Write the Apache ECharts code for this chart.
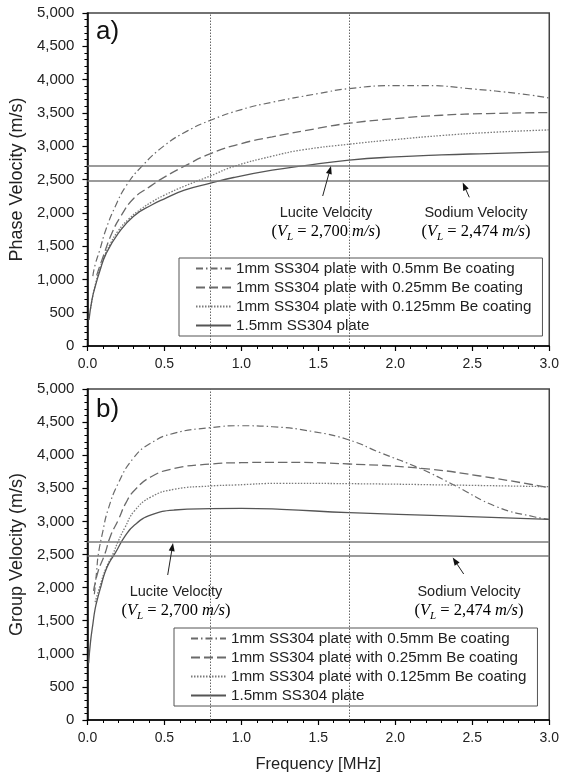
<!DOCTYPE html>
<html><head><meta charset="utf-8">
<script src="https://cdn.jsdelivr.net/npm/echarts/dist/echarts.min.js"></script>
<style>html,body{margin:0;padding:0;background:#fff}#c{width:562px;height:775px}</style>
</head><body><div id="c"></div>
<script>
// ---------- data ----------
const seriesNames = [
  '1mm SS304 plate with 0.5mm Be coating',
  '1mm SS304 plate with 0.25mm Be coating',
  '1mm SS304 plate with 0.125mm Be coating',
  '1.5mm SS304 plate'
];
// a) Phase velocity (m/s) vs frequency (MHz)
const freqP05   = [0.035,0.05,0.08,0.12,0.18,0.25,0.35,0.5,0.65,0.8,1.0,1.2,1.5,1.7,2.0,2.2,2.5,2.8,3.0];
const phaseP05  = [1050,1220,1440,1750,2090,2400,2690,3010,3230,3390,3550,3660,3790,3865,3910,3910,3860,3790,3725];
const freqP025  = [0.06,0.1,0.16,0.22,0.3,0.4,0.5,0.63,0.8,1.0,1.2,1.5,1.7,2.0,2.3,2.6,3.0];
const phaseP025 = [1060,1330,1700,1960,2215,2385,2535,2700,2890,3040,3140,3270,3345,3415,3465,3490,3505];
const freqP0125 = [0.02,0.05,0.1,0.15,0.2,0.27,0.35,0.42,0.5,0.63,0.8,0.95,1.2,1.4,1.7,2.0,2.3,2.6,3.0];
const phaseP0125= [560,910,1290,1540,1730,1910,2060,2165,2265,2400,2555,2695,2850,2945,3030,3100,3160,3205,3245];
const freqP15   = [0.01,0.03,0.05,0.08,0.12,0.2,0.3,0.42,0.5,0.63,0.8,0.95,1.2,1.4,1.7,2.0,2.3,2.6,3.0];
const phaseP15  = [390,700,890,1120,1380,1690,1950,2120,2210,2340,2445,2530,2640,2705,2790,2840,2870,2890,2915];
// b) Group velocity (m/s) vs frequency (MHz)
const freqG05   = [0.045,0.06,0.07,0.1,0.133,0.2,0.3,0.41,0.56,0.8,1.0,1.2,1.47,1.7,1.9,2.16,2.38,2.66,2.9,3.0];
const groupG05  = [1900,2250,2490,2850,3170,3575,3960,4180,4330,4416,4445,4430,4355,4230,4040,3800,3550,3220,3070,3030];
const freqG025  = [0.04,0.07,0.112,0.15,0.2,0.25,0.306,0.414,0.565,0.8,1.0,1.26,1.7,2.165,2.55,3.0];
const groupG025 = [1950,2250,2500,2780,3020,3280,3470,3675,3800,3867,3887,3893,3867,3802,3686,3509];
const freqG0125 = [0.05,0.08,0.12,0.166,0.2,0.242,0.306,0.414,0.565,0.8,0.955,1.26,1.7,2.34,3.0];
const groupG0125= [1780,2014,2290,2510,2700,2900,3160,3370,3485,3535,3550,3575,3570,3550,3524];
const freqG15   = [0.008,0.02,0.036,0.05,0.069,0.09,0.112,0.14,0.18,0.242,0.306,0.414,0.565,0.8,1.0,1.26,1.7,2.34,3.0];
const groupG15  = [856,1180,1460,1680,1863,2040,2216,2370,2520,2769,2946,3097,3172,3192,3197,3182,3132,3082,3032];
// reference lines
const luciteVelocity = 2700;
const sodiumVelocity = 2474;
const markerFreqs = [0.8, 1.7];
const xTicks = {min: 0, max: 3, interval: 0.5};
const yTicks = {min: 0, max: 5000, interval: 500};

// ---------- styles ----------
const SANS = '"Liberation Sans", Arial, sans-serif';
const SERIF = '"Liberation Serif", "Times New Roman", serif';
const lineStyles = [
  {color:'#6a6a6a', width:1.2, type:[7,3,1.5,3]},
  {color:'#6a6a6a', width:1.3, type:[9,4]},
  {color:'#7a7a7a', width:1.3, type:[1.5,1.5]},
  {color:'#555', width:1.3, type:'solid'}
];
const dataSets = [
  [[freqP05,phaseP05],[freqP025,phaseP025],[freqP0125,phaseP0125],[freqP15,phaseP15]],
  [[freqG05,groupG05],[freqG025,groupG025],[freqG0125,groupG0125],[freqG15,groupG15]]
];

const series = [];
dataSets.forEach((sets, gi) => {
  sets.forEach((pair, si) => {
    const s = {
      type:'line', name: seriesNames[si], xAxisIndex: gi, yAxisIndex: gi,
      data: pair[0].map((x,i)=>[x, pair[1][i]]),
      symbol:'none', showSymbol:false, smooth:0.5,
      lineStyle: lineStyles[si], itemStyle:{color: lineStyles[si].color},
      silent:true, z:3
    };
    if (si === 3) {
      s.markLine = {
        silent:true, symbol:'none', label:{show:false}, animation:false,
        data:[
          {yAxis: luciteVelocity, lineStyle:{color:'#7a7a7a', width:1.5, type:'solid'}},
          {yAxis: sodiumVelocity, lineStyle:{color:'#7a7a7a', width:1.5, type:'solid'}},
          ...markerFreqs.map(f => ({xAxis: f, lineStyle:{color:'#666', width:1, type:[1.5,1.5]}}))
        ]
      };
    }
    series.push(s);
  });
});

function xAxis(gi){
  return {
    type:'value', gridIndex: gi, min:xTicks.min, max:xTicks.max, interval:xTicks.interval,
    axisLine:{show:true, onZero:false, lineStyle:{color:'#000', width:1.5}},
    axisTick:{show:true, length:5, lineStyle:{color:'#000', width:1.2}},
    minorTick:{show:true, splitNumber:5, length:3, lineStyle:{color:'#000', width:1}},
    splitLine:{show:false},
    axisLabel:{formatter:v=>v.toFixed(1), fontFamily:SANS, fontSize:14, color:'#222', margin:11},
    name: gi===1 ? 'Frequency [MHz]' : '', nameLocation:'middle', nameGap:36,
    nameTextStyle:{fontFamily:SANS, fontSize:16.5, color:'#222'}
  };
}
function yAxis(gi, name){
  return {
    type:'value', gridIndex: gi, min:yTicks.min, max:yTicks.max, interval:yTicks.interval,
    axisLine:{show:true, lineStyle:{color:'#000', width:1.5}},
    axisTick:{show:true, length:5, lineStyle:{color:'#000', width:1.2}},
    minorTick:{show:true, splitNumber:5, length:3, lineStyle:{color:'#000', width:1}},
    splitLine:{show:false},
    axisLabel:{formatter:v=>v.toLocaleString('en-US'), fontFamily:SANS, fontSize:15, color:'#222', margin:13},
    name, nameLocation:'middle', nameGap:58,
    nameTextStyle:{fontFamily:SANS, fontSize:18, color:'#222'}
  };
}
function legend(left, top){
  return {
    data: seriesNames, orient:'vertical', left, top,
    itemWidth:35, itemHeight:14, itemGap:4,
    padding:[3,11,3,16], borderColor:'#555', borderWidth:1, backgroundColor:'#fff',
    textStyle:{fontFamily:SANS, fontSize:15.2, color:'#222'},
    itemStyle:{opacity:0, borderWidth:0},
    selectedMode:false
  };
}

const rich = {
  n:{fontFamily:SERIF, fontSize:16.5, color:'#222', lineHeight:22},
  i:{fontFamily:SERIF, fontSize:16.5, fontStyle:'italic', color:'#222', lineHeight:22},
  sub:{fontFamily:SERIF, fontSize:11, fontStyle:'italic', color:'#222', lineHeight:12, verticalAlign:'bottom'}
};
function label(x, y, title, val){
  return [
    {type:'text', x, y, z:10, style:{text:title, x:0, y:0, align:'center', verticalAlign:'middle', font:'14.5px '+SANS, fill:'#222'}},
    {type:'text', x, y:y+19, z:10, style:{text:'{n|(}{i|V}{sub|L}{n| = '+val+' }{i|m/s}{n|)}', x:0, y:0, align:'center', verticalAlign:'middle', rich}}
  ];
}
function arrow(x1,y1,x2,y2){
  const dx=x2-x1, dy=y2-y1, L=Math.hypot(dx,dy), ux=dx/L, uy=dy/L, px=-uy, py=ux;
  const hl=8, hw=3;
  const bx=x2-ux*hl, by=y2-uy*hl;
  return [
    {type:'line', z:10, shape:{x1,y1,x2:bx,y2:by}, style:{stroke:'#222', lineWidth:1}},
    {type:'polygon', z:10, shape:{points:[[x2,y2],[bx+px*hw,by+py*hw],[bx-px*hw,by-py*hw]]}, style:{fill:'#111'}}
  ];
}

const option = {
  animation:false,
  backgroundColor:'#fff',
  grid:[
    {left:86, top:13, width:467, height:333, show:true, borderColor:'#444', borderWidth:1.5, backgroundColor:'transparent'},
    {left:87, top:389, width:463, height:331, show:true, borderColor:'#444', borderWidth:1.5, backgroundColor:'transparent'}
  ],
  xAxis:[xAxis(0), xAxis(1)],
  yAxis:[yAxis(0,'Phase Velocity (m/s)'), yAxis(1,'Group Velocity (m/s)')],
  legend:[legend(179,258), legend(174,628)],
  series,
  graphic:[
    {type:'text', x:96, y:32, z:10, style:{text:'a)', x:0, y:0, verticalAlign:'middle', font:'26px '+SANS, fill:'#111'}},
    {type:'text', x:96, y:410, z:10, style:{text:'b)', x:0, y:0, verticalAlign:'middle', font:'26px '+SANS, fill:'#111'}},
    ...label(326, 213, 'Lucite Velocity', '2,700'),
    ...label(476, 213, 'Sodium Velocity', '2,474'),
    ...label(176, 592, 'Lucite Velocity', '2,700'),
    ...label(469, 592, 'Sodium Velocity', '2,474'),
    ...arrow(322.7,196,331,166),
    ...arrow(469.3,197.3,462.7,182.5),
    ...arrow(167.7,575,173,543),
    ...arrow(463.7,574,452.7,557.5)
  ]
};
const chart = echarts.init(document.getElementById('c'), null, {renderer:'canvas'});
chart.setOption(option);
</script></body></html>
